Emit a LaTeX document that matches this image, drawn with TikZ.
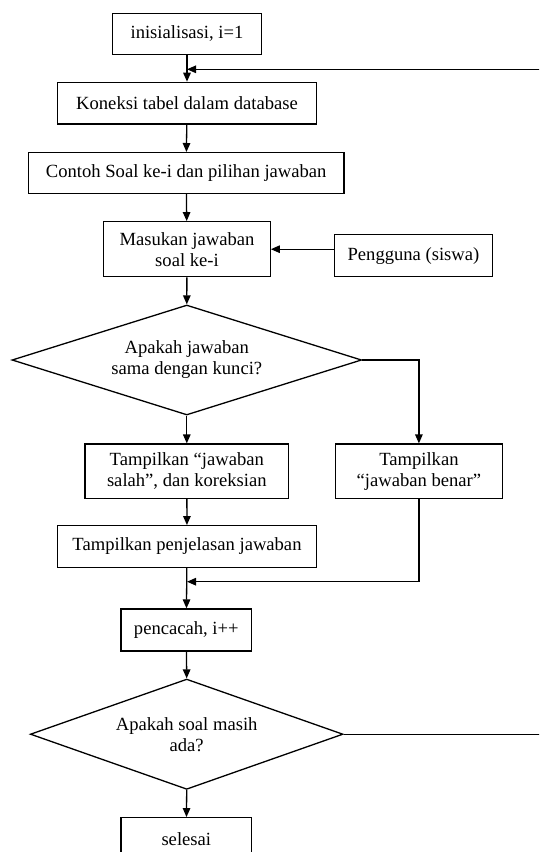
\documentclass[tikz,border=0pt]{standalone}
\usepackage{fontspec}
\setmainfont{Liberation Serif}
\usetikzlibrary{shapes.geometric,arrows.meta}

\tikzset{
    proses/.style={draw, line width=1.3pt, inner sep=0pt, align=center, font=\fontsize{18.6}{21}\selectfont},
    keputusan/.style={diamond, draw, line width=1.3pt, inner sep=0pt, aspect=3, align=center, font=\fontsize{18.6}{21}\selectfont},
    alur/.style={line width=1.3pt, -{Triangle[length=9pt,width=7.5pt]}}
}

\begin{document}
\begin{tikzpicture}[x=1pt,y=-1pt]
    \clip (0,0) rectangle (539,852);

    % Draw process boxes on the main axis
    \node[proses, minimum width=148.5pt, minimum height=41pt] (init) at (187,33.8) {inisialisasi, i=1};
    \node[proses, minimum width=258.5pt, minimum height=41.7pt] (koneksi) at (187,103.2) {Koneksi tabel dalam database};
    \node[proses, minimum width=315.3pt, minimum height=40.7pt] (contoh) at (186.2,173) {Contoh Soal ke-i dan pilihan jawaban};
    \node[proses, minimum width=166.4pt, minimum height=55pt] (masukan) at (187,249.2) {Masukan jawaban\\soal ke-i};
    \node[proses, minimum width=157.5pt, minimum height=42pt] (pengguna) at (413.5,255.7) {Pengguna (siswa)};

    % Draw first decision and its two branches
    \node[keputusan, minimum width=349.6pt, minimum height=110pt] (tanya1) at (186.8,360) {Apakah jawaban\\sama dengan kunci?};
    \node[proses, minimum width=203.9pt, minimum height=54.3pt] (salah) at (186.8,471.2) {Tampilkan “jawaban\\salah”, dan koreksian};
    \node[proses, minimum width=167.4pt, minimum height=54.3pt] (benar) at (418.9,471.2) {Tampilkan\\“jawaban benar”};
    \node[proses, minimum width=258.5pt, minimum height=41.6pt] (jelas) at (187,546.5) {Tampilkan penjelasan jawaban};

    % Draw counter, second decision and end
    \node[proses, minimum width=130.6pt, minimum height=42pt] (cacah) at (186.3,630) {pencacah, i++};
    \node[keputusan, minimum width=312.7pt, minimum height=110.3pt] (tanya2) at (186.7,734.2) {Apakah soal masih\\ada?};
    \node[proses, minimum width=130.6pt, minimum height=42pt] (selesai) at (186.3,838.7) {selesai};

    % Junction points
    \coordinate (j1) at (187,69.3);
    \coordinate (kanan) at (546,69.3);
    \coordinate (j2) at (187,581.7);

    % Draw connectors
    \draw[alur] (init) -- (koneksi);
    \draw[alur] (koneksi) -- (contoh);
    \draw[alur] (contoh) -- (masukan);
    \draw[alur] (pengguna.west |- masukan) -- (masukan.east);
    \draw[alur] (masukan) -- (tanya1.north);
    \draw[alur] (tanya1.south) -- (salah);
    \draw[alur] (tanya1.east) -| (benar.north);
    \draw[alur] (salah) -- (jelas);
    \draw[alur] (jelas) -- (cacah);
    \draw[alur] (benar.south) |- (j2);
    \draw[alur] (cacah) -- (tanya2.north);
    \draw[alur] (tanya2.south) -- (selesai);
    \draw[alur] (tanya2.east) -| (kanan) -- (j1);
\end{tikzpicture}
\end{document}
